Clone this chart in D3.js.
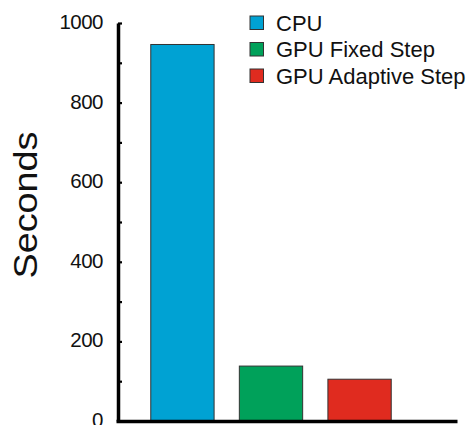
<!DOCTYPE html>
<html>
<head>
<meta charset="utf-8">
<script src="https://cdn.jsdelivr.net/npm/d3@7"></script>
<style>
  html, body { margin: 0; padding: 0; background: #fff; }
  svg text { font-family: "Liberation Sans", Arial, Helvetica, sans-serif; fill: #111; }
</style>
</head>
<body>
<svg id="chart" width="469" height="425"></svg>
<script>
const categories = ["CPU", "GPU Fixed Step", "GPU Adaptive Step"];
const seconds    = [946, 138, 105];
const colors     = ["#00a2d3", "#00a15a", "#e02b1f"];
const yTicks     = [0, 200, 400, 600, 800, 1000];
const yMinor     = d3.range(100, 1000, 200);

const svg = d3.select("#chart");

let xScale = d3.scaleBand()
                .domain(categories)
                .range([118, 424])
                .paddingInner(0.285)
                .paddingOuter(0.37),
    yScale = d3.scaleLinear()
                .domain([0, 1000])
                .range([421, 23]);

/* bars */
svg.selectAll(".bar")
    .data(categories)
    .enter()
    .append("rect")
    .attr("class", "bar")
    .attr("x", d => xScale(d))
    .attr("width", xScale.bandwidth())
    .attr("y", (d, i) => yScale(seconds[i]))
    .attr("height", (d, i) => yScale(0) - yScale(seconds[i]))
    .attr("fill", (d, i) => colors[i])
    .attr("stroke", "#333")
    .attr("stroke-width", 1);

/* y axis: major ticks with labels, plus minor ticks, all pointing inward */
let yAxis = d3.axisRight(yScale)
                .tickValues(yTicks.concat(yMinor))
                .tickSizeInner(4)
                .tickSizeOuter(0)
                .tickFormat(() => "");

let gy = svg.append("g")
    .attr("transform", "translate(118, 0)")
    .call(yAxis);
gy.select(".domain").attr("stroke", "#000").attr("stroke-width", 3.5);
gy.selectAll(".tick line").attr("stroke", "#000").attr("stroke-width", 2.2);

svg.selectAll(".ylab")
    .data(yTicks)
    .enter()
    .append("text")
    .attr("class", "ylab")
    .attr("x", 103)
    .attr("y", d => yScale(d) - 1.5)
    .attr("text-anchor", "end")
    .attr("dominant-baseline", "central")
    .attr("font-size", 20.5)
    .attr("letter-spacing", -0.5)
    .text(d => d);

/* x axis line */
let xAxis = d3.axisBottom(d3.scaleLinear().domain([0, 1]).range([116, 457]))
                .ticks(0)
                .tickSizeOuter(0);
let gx = svg.append("g")
    .attr("transform", `translate(0, ${yScale(0)})`)
    .call(xAxis);
gx.select(".domain").attr("stroke", "#000").attr("stroke-width", 3.5);

/* y axis title */
svg.append("text")
    .attr("transform", "translate(37, 205) rotate(-90)")
    .attr("text-anchor", "middle")
    .attr("font-size", 34)
    .attr("textLength", 147)
    .attr("lengthAdjust", "spacingAndGlyphs")
    .text("Seconds");

/* legend */
let legend = svg.selectAll(".legend")
    .data(categories)
    .enter()
    .append("g")
    .attr("class", "legend")
    .attr("transform", (d, i) => `translate(250, ${16 + i * 26.5})`);

legend.append("rect")
    .attr("width", 13.5)
    .attr("height", 13.5)
    .attr("fill", (d, i) => colors[i])
    .attr("stroke", "#333")
    .attr("stroke-width", 1);

legend.append("text")
    .attr("x", 26)
    .attr("y", 7)
    .attr("dominant-baseline", "central")
    .attr("font-size", 22)
    .text(d => d);
</script>
</body>
</html>
